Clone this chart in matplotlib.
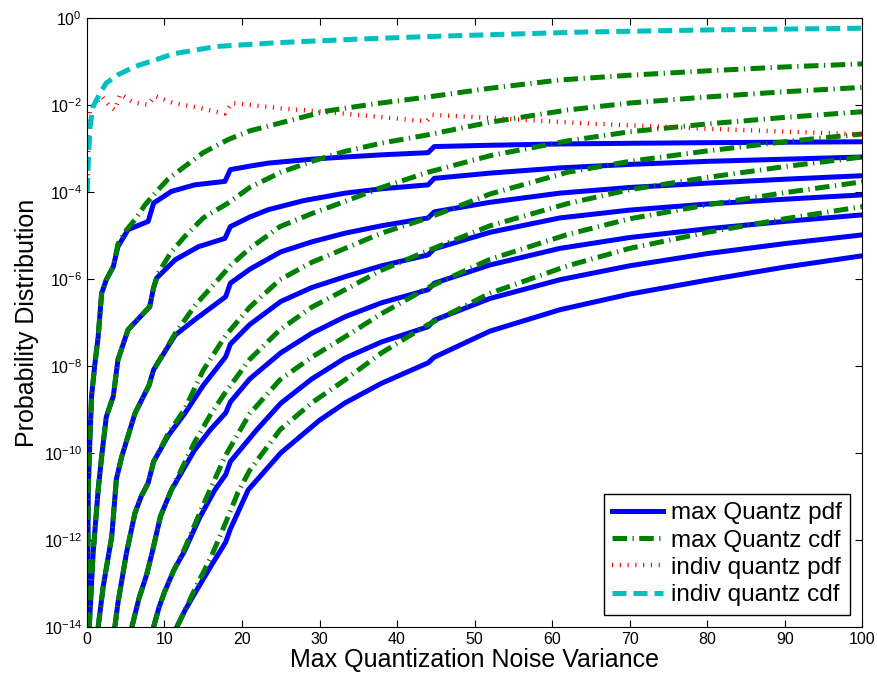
import numpy as np
import matplotlib
matplotlib.use('Agg')
import matplotlib.pyplot as plt

plt.rcParams['font.family'] = ['Liberation Sans', 'DejaVu Sans']

# max Quantz pdf curves (x, log10 value)
pdf_x = [
    [0.08, 0.17, 0.4, 0.6, 1.0, 1.45, 1.9, 2.5, 3.4, 4.0, 5.3, 7.9, 8.6, 10.9, 13.9, 17.8, 18.5, 21, 23.4, 29, 33.3, 38, 44, 44.8, 52, 61, 70, 80, 90, 100],
    [0.3, 0.8, 1.45, 1.9, 2.5, 3.4, 4.0, 5.3, 8.1, 8.6, 9.0, 11.4, 14.4, 17.8, 18.5, 21, 23.4, 28, 33.3, 38, 44, 44.8, 52, 61, 70, 80, 90, 100],
    [1.45, 2.1, 3.2, 3.8, 4.5, 6.2, 8.0, 8.6, 11.4, 13.9, 17.9, 18.5, 21, 25, 29, 33.3, 38, 44, 44.8, 52, 61, 70, 80, 90, 100],
    [3.6, 4.0, 5.1, 6.2, 7.0, 7.9, 8.6, 10.5, 12.6, 15, 17.9, 18.5, 21, 25, 29, 33.3, 38, 44, 44.8, 52, 61, 70, 80, 90, 100],
    [5.8, 6.7, 7.7, 8.4, 9.5, 10.9, 13.9, 16, 17.9, 18.5, 21, 25, 29, 33.3, 38, 44, 44.8, 52, 61, 70, 80, 90, 100],
    [8.6, 9.3, 10.0, 11.2, 12.6, 14.5, 16.5, 17.9, 18.5, 22, 25, 29, 33.3, 38, 44, 44.8, 52, 61, 70, 80, 90, 100],
    [11.6, 12.7, 14.0, 16, 17.9, 18.5, 20.8, 25, 30, 33.3, 38, 44, 44.8, 52, 61, 70, 80, 90, 100],
]
pdf_y = [
    [-14, -10.85, -9.6, -8.7, -8.0, -7.33, -6.33, -6.02, -5.72, -5.26, -4.87, -4.68, -4.26, -3.99, -3.84, -3.76, -3.49, -3.41, -3.34, -3.25, -3.20, -3.15, -3.10, -2.96, -2.93, -2.90, -2.885, -2.87, -2.86, -2.85],
    [-14, -12.3, -10.85, -10.08, -9.17, -8.7, -7.86, -7.17, -6.64, -6.2, -5.98, -5.56, -5.26, -5.07, -4.80, -4.58, -4.41, -4.2, -4.03, -3.93, -3.84, -3.69, -3.57, -3.45, -3.37, -3.30, -3.25, -3.20],
    [-14, -13.07, -11.92, -10.6, -10.08, -9.09, -8.45, -8.09, -7.29, -6.94, -6.41, -6.10, -5.78, -5.38, -5.15, -4.95, -4.78, -4.60, -4.46, -4.24, -4.03, -3.9, -3.80, -3.71, -3.63],
    [-14, -13.45, -12.3, -11.38, -11.0, -10.69, -10.2, -9.6, -9.1, -8.45, -7.79, -7.5, -7.05, -6.52, -6.2, -5.95, -5.7, -5.45, -5.31, -4.93, -4.6, -4.42, -4.28, -4.17, -4.07],
    [-14, -13.35, -12.8, -12.3, -11.45, -10.85, -9.93, -9.45, -9.08, -8.83, -8.3, -7.70, -7.25, -6.87, -6.55, -6.25, -6.1, -5.68, -5.3, -5.05, -4.85, -4.68, -4.53],
    [-14, -13.55, -13.2, -12.7, -12.25, -11.5, -10.85, -10.5, -10.2, -9.45, -8.86, -8.3, -7.82, -7.45, -7.10, -6.95, -6.45, -6.02, -5.7, -5.42, -5.19, -4.99],
    [-14, -13.6, -13.2, -12.6, -12.05, -11.75, -10.85, -10.0, -9.25, -8.85, -8.4, -7.93, -7.8, -7.2, -6.71, -6.35, -6.03, -5.73, -5.47],
]

# max Quantz cdf curves
cdf_x = [
    [0.08, 0.17, 0.4, 0.6, 1.0, 1.45, 1.9, 2.5, 3.4, 4.0, 5, 6.2, 7.5, 8.8, 10.5, 12.6, 15, 18.2, 21, 24.9, 30.7, 37, 44, 52, 61, 70, 80, 90, 100],
    [0.3, 0.8, 1.45, 1.9, 2.5, 3.4, 4.0, 5.3, 8.1, 8.6, 9.2, 10.8, 12.6, 15, 18.2, 21, 24.9, 29, 33.3, 38, 44, 52, 62, 70, 80, 90, 100],
    [1.45, 2.1, 3.2, 3.8, 4.5, 6.2, 8.0, 8.6, 11.4, 14, 16.9, 18.5, 21, 24.9, 29, 33.3, 38, 44, 52, 62, 70, 80, 90, 100],
    [3.6, 4.0, 5.1, 6.2, 7.0, 7.9, 8.6, 10.5, 12.6, 15, 17.9, 21, 24.9, 29, 33.3, 38, 44, 52, 62, 70, 80, 90, 100],
    [5.8, 6.7, 7.7, 8.4, 9.5, 10.9, 13.9, 16, 17.9, 21, 24.9, 29, 33.3, 38, 44, 52, 62, 70, 80, 90, 100],
    [8.6, 9.3, 10.0, 11.2, 12.6, 14.5, 16.5, 17.9, 21, 24.9, 29, 33.3, 38, 44, 52, 62, 70, 80, 90, 100],
    [11.6, 12.7, 14, 16, 17.9, 19.5, 21, 24.9, 29, 33.3, 38, 44, 52, 62, 70, 80, 90, 100],
]
cdf_y = [
    [-14, -10.85, -9.6, -8.7, -8.0, -7.33, -6.33, -6.02, -5.72, -5.2, -4.9, -4.64, -4.3, -4.03, -3.7, -3.42, -3.1, -2.80, -2.6, -2.42, -2.15, -1.98, -1.82, -1.62, -1.43, -1.32, -1.22, -1.13, -1.06],
    [-14, -12.3, -10.85, -10.08, -9.17, -8.7, -7.86, -7.17, -6.64, -6.2, -5.87, -5.4, -5.03, -4.6, -4.26, -3.9, -3.56, -3.3, -3.07, -2.88, -2.69, -2.4, -2.12, -1.96, -1.82, -1.7, -1.6],
    [-14, -13.07, -11.92, -10.6, -10.08, -9.09, -8.45, -8.09, -7.25, -6.6, -6.02, -5.7, -5.3, -4.80, -4.5, -4.22, -3.9, -3.55, -3.17, -2.83, -2.62, -2.44, -2.29, -2.16],
    [-14, -13.45, -12.3, -11.38, -11.0, -10.69, -10.2, -9.55, -9.0, -8.1, -7.3, -6.65, -6.02, -5.62, -5.3, -4.95, -4.6, -4.05, -3.55, -3.3, -3.06, -2.85, -2.67],
    [-14, -13.35, -12.8, -12.3, -11.45, -10.85, -9.75, -9.1, -8.6, -7.85, -7.17, -6.65, -6.25, -5.8, -5.35, -4.78, -4.27, -3.95, -3.67, -3.42, -3.2],
    [-14, -13.55, -13.2, -12.7, -12.2, -11.4, -10.6, -10.05, -9.1, -8.32, -7.8, -7.33, -6.8, -6.2, -5.55, -4.98, -4.62, -4.3, -4.02, -3.77],
    [-14, -13.6, -13.1, -12.4, -11.6, -10.9, -10.4, -9.47, -8.85, -8.32, -7.7, -7.05, -6.33, -5.7, -5.3, -4.93, -4.62, -4.34],
]

# indiv quantz pdf / cdf
ind_pdf_x = [0.1, 0.2, 0.4, 1.0, 1.9, 2.8, 3.6, 4.3, 6.0, 7.9, 8.8, 11, 13.9, 17.8, 18.7, 25, 33, 43.8, 44.5, 55, 63.6, 80, 100]
ind_pdf_y = [-3.8, -2.5, -2.1, -2.0, -1.8, -2.0, -2.12, -1.75, -1.95, -2.0, -1.8, -1.95, -2.05, -2.2, -1.96, -2.08, -2.2, -2.38, -2.23, -2.33, -2.42, -2.55, -2.68]
ind_cdf_x = [0.05, 0.2, 0.4, 0.8, 1.7, 2.5, 4.0, 6.2, 8.8, 11.1, 16.7, 24.9, 35, 44.3, 63.6, 80, 100]
ind_cdf_y = [-4.0, -3.2, -2.5, -2.04, -1.73, -1.5, -1.31, -1.12, -0.97, -0.83, -0.66, -0.57, -0.49, -0.43, -0.33, -0.28, -0.24]

fig = plt.figure(figsize=(8.78, 6.83), dpi=100)
ax = fig.add_axes([0.099, 0.082, 0.883, 0.892])

blue = (0, 0, 1)
green = (0, 0.5, 0)
red = (1, 0, 0)
cyan = (0, 0.75, 0.75)

for i in range(len(pdf_x)):
    ax.semilogy(pdf_x[i], 10 ** np.array(pdf_y[i]), color=blue, lw=3.6,
                solid_joinstyle='round', label='max Quantz pdf' if i == 0 else None)
for i in range(len(cdf_x)):
    ax.semilogy(cdf_x[i], 10 ** np.array(cdf_y[i]), color=green, lw=3.6,
                dashes=(2.9, 1.1, 0.25, 1.1), label='max Quantz cdf' if i == 0 else None)
ax.semilogy(ind_pdf_x, 10 ** np.array(ind_pdf_y), color=red, lw=3.2,
            dashes=(0.25, 1.5), label='indiv quantz pdf')
ax.semilogy(ind_cdf_x, 10 ** np.array(ind_cdf_y), color=cyan, lw=3.6,
            dashes=(2.8, 1.4), label='indiv quantz cdf')

ax.set_xlim(0, 100)
ax.set_ylim(1e-14, 1)
ax.set_xticks(np.arange(0, 101, 10))
ax.set_yticks([10.0 ** k for k in range(-14, 1, 2)])
ax.minorticks_off()
ax.tick_params(direction='in', top=True, right=True, labelsize=11.5, length=5)
ax.set_xlabel('Max Quantization Noise Variance', fontsize=18, labelpad=1)
ax.set_ylabel('Probability Distribution', fontsize=18, labelpad=3)

leg = ax.legend(loc='lower right', fontsize=17.5, fancybox=False, framealpha=1,
                edgecolor='black', handlelength=2.1, borderaxespad=0.5,
                labelspacing=0.22, handletextpad=0.3, borderpad=0.35)
leg.get_frame().set_linewidth(1.0)

fig.savefig('out.png', dpi=100)
